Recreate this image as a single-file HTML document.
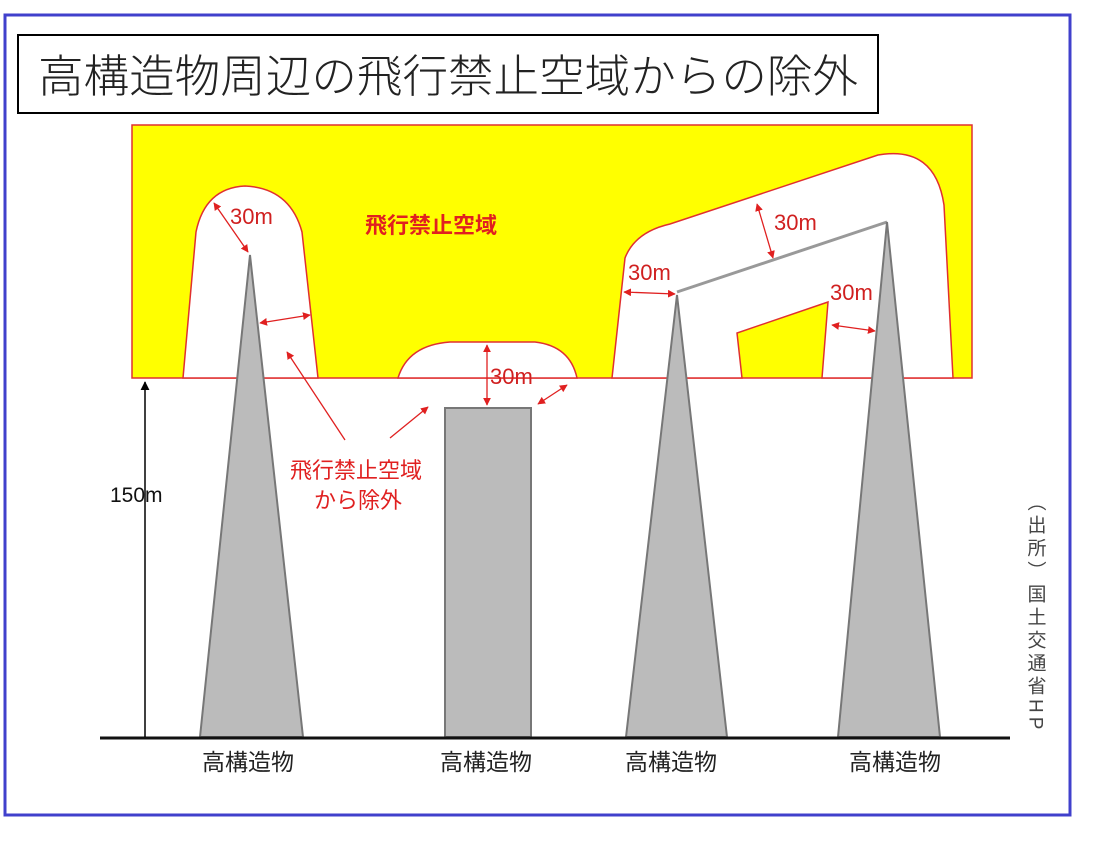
<!DOCTYPE html>
<html><head><meta charset="utf-8"><style>
body{margin:0;background:#fff;width:1096px;height:845px;overflow:hidden}
svg{display:block}
text{font-family:"Liberation Sans","Noto Sans CJK JP",sans-serif}
</style></head><body>
<svg width="1096" height="845" viewBox="0 0 1096 845">
<defs><marker id="a" viewBox="0 0 10 10" refX="9" refY="5" markerWidth="6" markerHeight="6" orient="auto-start-reverse"><path d="M0,0L10,5L0,10z" fill="#e02020"/></marker>
<marker id="k" viewBox="0 0 10 10" refX="9" refY="5" markerWidth="6" markerHeight="6" orient="auto"><path d="M0,0L10,5L0,10z" fill="#000"/></marker></defs>
<rect x="5" y="15" width="1065" height="800" fill="#fff" stroke="#4040cc" stroke-width="3"/>
<rect x="18" y="35" width="860" height="78" fill="#fff" stroke="#000" stroke-width="2"/>
<text x="38" y="92" font-size="45" font-weight="300" textLength="820" lengthAdjust="spacingAndGlyphs" fill="#222">高構造物周辺の飛行禁止空域からの除外</text>
<rect x="132" y="125" width="840" height="253" fill="#ffff00" stroke="#e03030" stroke-width="1.5"/>
<g fill="#fff" stroke="#e03030" stroke-width="1.5">
<path d="M183,378 L196,232 Q205,188 245,186 Q290,188 302,232 L318,378 Z"/>
<path d="M398,378 Q408,345 450,342 L535,342 Q570,346 577,378 Z"/>
<path d="M612,378 L625,258 Q635,232 670,224 L878,155 Q935,145 944,205 L953,378 L822,378 L828,302 L737,333 L742,378 Z"/>
</g>
<line x1="677" y1="292" x2="887" y2="222" stroke="#999" stroke-width="3"/>
<g fill="#bbb" stroke="#777" stroke-width="2">
<path d="M250,255 L303,737 L200,737 Z"/>
<rect x="445" y="408" width="86" height="329"/>
<path d="M677,295 L727,737 L626,737 Z"/>
<path d="M887,222 L940,737 L838,737 Z"/>
</g>
<line x1="100" y1="738" x2="1010" y2="738" stroke="#111" stroke-width="3"/>
<line x1="145" y1="737" x2="145" y2="382" stroke="#000" stroke-width="1.5" marker-end="url(#k)"/>
<text x="110" y="502" font-size="21" fill="#111">150m</text>
<g font-size="23" fill="#222" text-anchor="middle">
<text x="248" y="770">高構造物</text><text x="486" y="770">高構造物</text>
<text x="671" y="770">高構造物</text><text x="895" y="770">高構造物</text>
</g>
<text x="1035" y="492" font-size="19" fill="#444" letter-spacing="4" style="writing-mode:vertical-rl">（出所）国土交通省HP</text>
<text x="365" y="233" font-size="22" font-weight="bold" fill="#e02020">飛行禁止空域</text>
<g font-size="22" fill="#e02020"><text x="290" y="478">飛行禁止空域</text><text x="314" y="508">から除外</text></g>
<g stroke="#e02020" stroke-width="1.3" fill="none" marker-end="url(#a)" marker-start="url(#a)">
<line x1="214" y1="203" x2="248" y2="252"/>
<line x1="260" y1="323" x2="310" y2="315"/>
<line x1="487" y1="345" x2="487" y2="405"/>
<line x1="538" y1="404" x2="567" y2="385"/>
<line x1="624" y1="292" x2="675" y2="294"/>
<line x1="757" y1="204" x2="773" y2="258"/>
<line x1="832" y1="325" x2="875" y2="331"/>
</g>
<g stroke="#e02020" stroke-width="1.3" marker-end="url(#a)">
<line x1="345" y1="440" x2="287" y2="352"/>
<line x1="390" y1="438" x2="428" y2="407"/>
</g>
<g font-size="22" fill="#d02020">
<text x="230" y="224">30m</text><text x="490" y="384">30m</text>
<text x="628" y="280">30m</text><text x="774" y="230">30m</text>
<text x="830" y="300">30m</text>
</g>
</svg>
</body></html>
